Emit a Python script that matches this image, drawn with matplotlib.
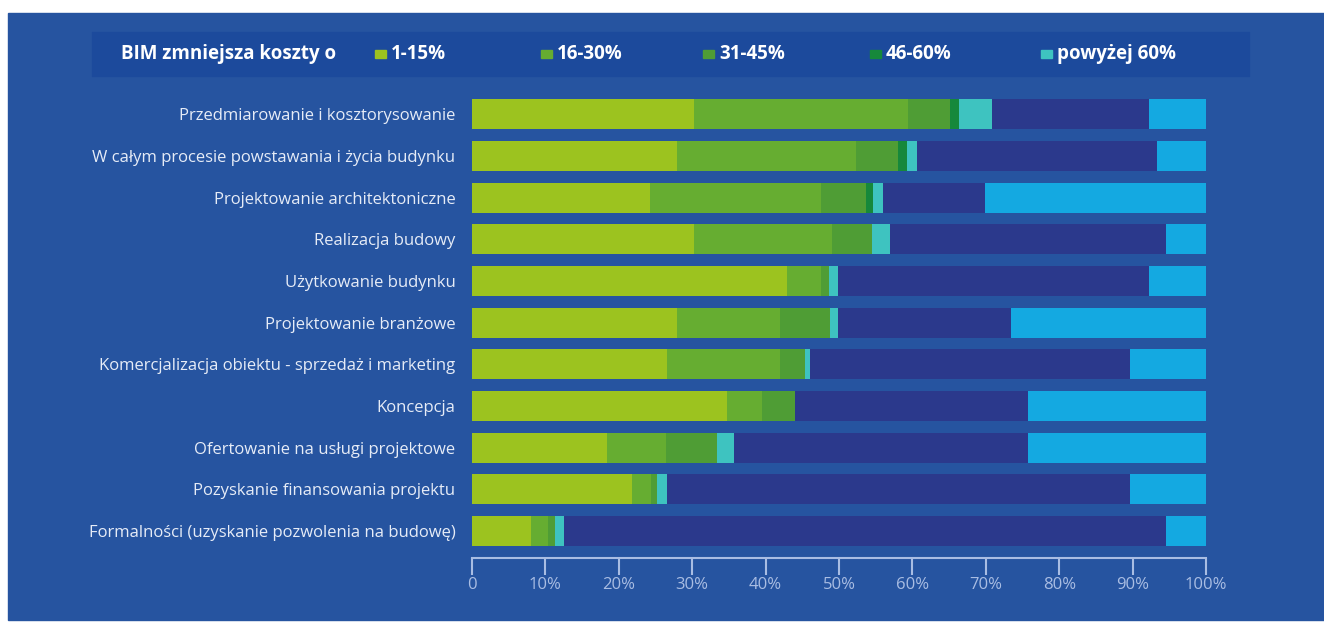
import matplotlib
matplotlib.use('Agg')
import matplotlib.pyplot as plt
from matplotlib.patches import Rectangle
import numpy as np

plt.rcParams['font.family'] = ['Open Sans', 'DejaVu Sans']

# Data (percent of respondents)
categories = [
    'Przedmiarowanie i kosztorysowanie',
    'W całym procesie powstawania i życia budynku',
    'Projektowanie architektoniczne',
    'Realizacja budowy',
    'Użytkowanie budynku',
    'Projektowanie branżowe',
    'Komercjalizacja obiektu - sprzedaż i marketing',
    'Koncepcja',
    'Ofertowanie na usługi projektowe',
    'Pozyskanie finansowania projektu',
    'Formalności (uzyskanie pozwolenia na budowę)',
]
p_1_15 = [30.3, 27.9, 24.3, 30.3, 42.9, 27.9, 26.6, 34.7, 18.4, 21.8, 8.1]
p_16_30 = [29.1, 24.4, 23.2, 18.7, 4.7, 14.1, 15.4, 4.8, 8.0, 2.6, 2.3]
p_31_45 = [5.7, 5.8, 6.2, 5.5, 1.1, 6.8, 3.3, 4.5, 7.0, 0.8, 0.9]
p_46_60 = [1.2, 1.2, 1.0, 0.0, 0.0, 0.0, 0.0, 0.0, 0.0, 0.0, 0.0]
p_over_60 = [4.6, 1.3, 1.3, 2.4, 1.1, 1.1, 0.8, 0.0, 2.3, 1.3, 1.2]
p_none = [21.4, 32.7, 13.9, 37.7, 42.5, 23.5, 43.5, 31.8, 40.1, 63.1, 82.1]
p_unknown = [7.7, 6.7, 30.1, 5.4, 7.7, 26.6, 10.4, 24.2, 24.2, 10.4, 5.4]

legend_labels = ['1-15%', '16-30%', '31-45%', '46-60%', 'powyżej 60%']
series = [p_1_15, p_16_30, p_31_45, p_46_60, p_over_60, p_none, p_unknown]
colors = ['#9cc31f', '#66ad31', '#4f9d35', '#16883b', '#3ec3c0', '#2b398c', '#14a9e1']

W, H = 1324, 622
bg = '#2654a0'
fig = plt.figure(figsize=(W / 100, H / 100), dpi=100, facecolor='white')

# blue panel
fig.patches.append(Rectangle((8 / W, 2 / H), (W - 8) / W, (H - 15) / H,
                             transform=fig.transFigure, color=bg, zorder=-2))
# legend band
fig.patches.append(Rectangle((92 / W, 1 - 76 / H), (1249 - 92) / W, 44 / H,
                             transform=fig.transFigure, color='#1c4a9c', zorder=-1))

ax = fig.add_axes([472 / W, 64 / H, (1206 - 472) / W, (558 - 95) / H])
ax.set_facecolor(bg)

y = np.arange(len(categories))
left = np.zeros(len(categories))
for vals, c in zip(series, colors):
    ax.barh(y, vals, left=left, height=0.72, color=c, linewidth=0)
    left += np.array(vals)

ax.set_xlim(0, 100)
ax.set_ylim(10.65, -0.46)
ax.set_yticks(y)
ax.set_yticklabels(categories, fontsize=12, color='#e6ecf7')
ax.tick_params(axis='y', length=0, pad=12)

ax.set_xticks(np.arange(0, 101, 10))
ax.set_xticklabels(['0'] + [f'{v}%' for v in range(10, 101, 10)])
ax.tick_params(axis='x', colors='#a9bde3', labelsize=12, length=12, width=1.5, pad=2)
for s in ['top', 'right', 'left']:
    ax.spines[s].set_visible(False)
ax.spines['bottom'].set_color('#a9bde3')
ax.spines['bottom'].set_linewidth(1.5)

# legend row
ly = 1 - 54 / H
fig.text(121 / W, ly, 'BIM zmniejsza koszty o', color='white', fontsize=13.5,
         fontweight='bold', va='center', ha='left')
marker_x = [375, 541, 703, 870, 1041]
for mx, lab, c in zip(marker_x, legend_labels, colors[:5]):
    fig.patches.append(Rectangle((mx / W, ly - 4 / H), 11 / W, 8 / H,
                                 transform=fig.transFigure, color=c, zorder=2))
    fig.text((mx + 16) / W, ly, lab, color='white', fontsize=13.5,
             fontweight='bold', va='center', ha='left')

fig.savefig('out.png', dpi=100, facecolor=fig.get_facecolor())
